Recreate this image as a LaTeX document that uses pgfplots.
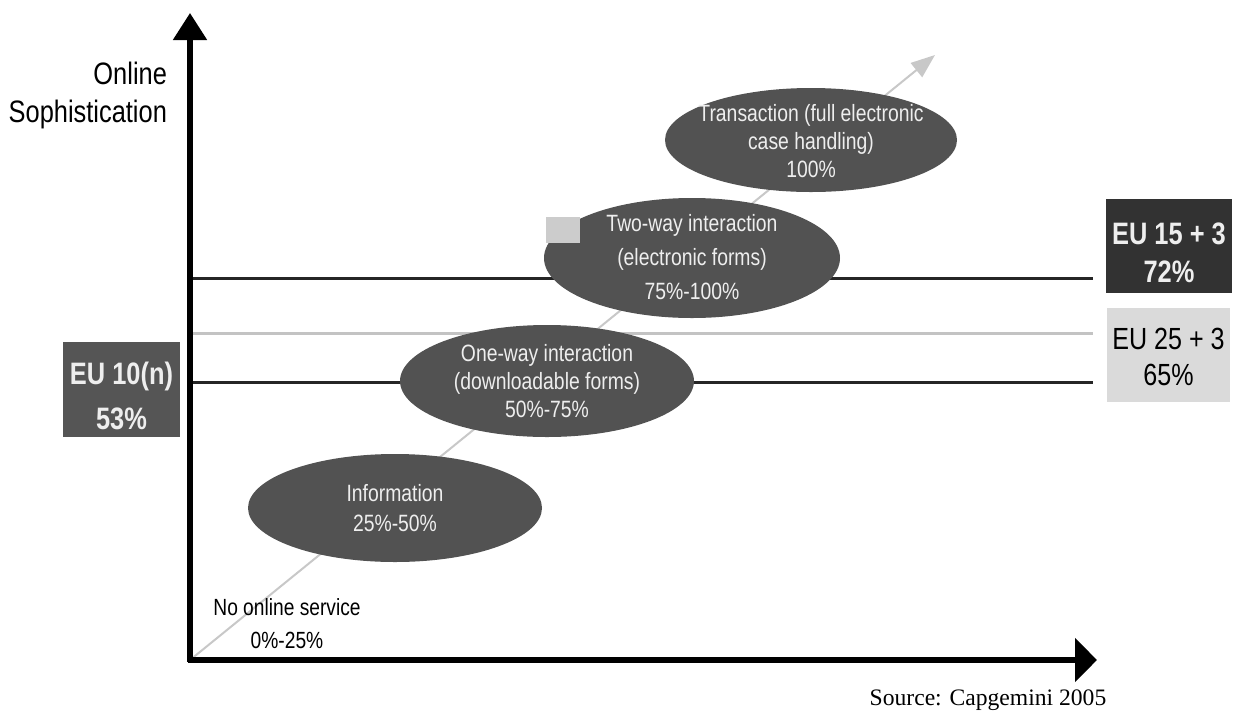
\documentclass[border=0pt]{standalone}
\usepackage{fontspec}
\setmainfont[FakeStretch=0.82]{Liberation Sans}
\newfontfamily\srcfont{Liberation Serif}
\usepackage{pgfplots}
\pgfplotsset{compat=1.18}
\usetikzlibrary{arrows.meta}
\definecolor{ell}{RGB}{82,82,82}
\definecolor{elltext}{RGB}{238,238,238}
\definecolor{diag}{RGB}{200,200,200}
\definecolor{darkbox}{RGB}{50,50,50}
\definecolor{midbox}{RGB}{85,85,85}
\definecolor{lightbox}{RGB}{218,218,218}
\definecolor{greyline}{RGB}{195,195,195}
\begin{document}
\begin{tikzpicture}
\begin{axis}[
  scale only axis, width=619.5pt, height=359.5pt,
  xmin=0, xmax=1239, ymin=0, ymax=719, y dir=reverse,
  hide axis, clip=false]
\path (axis cs:0,0) rectangle (axis cs:1239,719);
% progression arrow
\addplot[draw=diag, line width=1pt, -{Triangle[length=12pt,width=9pt]}] coordinates {(190,660) (935,55)};
% level lines: EU 15+3 72%, EU 25+3 65%, EU 10(n) 53%
\addplot[line width=1.5pt, black!85] coordinates {(190,278) (1093,278)};
\addplot[line width=1.5pt, greyline] coordinates {(190,333) (1093,333)};
\addplot[line width=1.5pt, black!85] coordinates {(190,382) (1093,382)};
% axes
\addplot[line width=2.6pt, black, -{Triangle[length=13.5pt,width=16.5pt]}] coordinates {(190,662) (190,13)};
\addplot[line width=2.6pt, black, -{Triangle[length=11pt,width=21.5pt]}] coordinates {(188,660) (1097,660)};
% stage ellipses
\fill[ell] (axis cs:395,508) ellipse [x radius=147, y radius=54];
\fill[ell] (axis cs:547,381) ellipse [x radius=147, y radius=56];
\fill[ell] (axis cs:692,258) ellipse [x radius=148, y radius=60];
\fill[ell] (axis cs:811,140) ellipse [x radius=146, y radius=52];
\fill[gray!40] (axis cs:546,217) rectangle (axis cs:580,243);
\node[text=elltext, align=center, font=\fontsize{11.8}{15}\selectfont] at (axis cs:395,508) {Information\\25\%-50\%};
\node[text=elltext, align=center, font=\fontsize{11.8}{14}\selectfont] at (axis cs:547,381) {One-way interaction\\(downloadable forms)\\50\%-75\%};
\node[text=elltext, align=center, font=\fontsize{11.8}{17}\selectfont] at (axis cs:692,257) {Two-way interaction\\(electronic forms)\\75\%-100\%};
\node[text=elltext, align=center, font=\fontsize{11.8}{14}\selectfont] at (axis cs:811,141) {Transaction (full electronic\\case handling)\\100\%};
\node[align=center, font=\fontsize{11.7}{16.5}\selectfont] at (axis cs:287,624) {No online service\\0\%-25\%};
% axis label
\node[anchor=east, align=right, font=\fontsize{15.5}{19}\selectfont] at (axis cs:174,95) {Online\\Sophistication};
% level boxes
\fill[darkbox] (axis cs:1106,199) rectangle (axis cs:1232,293);
\node[text=elltext, align=center, font=\bfseries\fontsize{15.5}{19}\selectfont] at (axis cs:1169,253) {EU 15 + 3\\72\%};
\fill[lightbox] (axis cs:1107,308) rectangle (axis cs:1230,402);
\node[text=black, align=center, font=\fontsize{15.3}{18}\selectfont] at (axis cs:1168.5,357) {EU 25 + 3\\65\%};
\fill[midbox] (axis cs:63,342) rectangle (axis cs:180,437);
\node[text=elltext, align=center, font=\bfseries\fontsize{15.5}{22.5}\selectfont] at (axis cs:121.5,396) {EU 10(n)\\53\%};
% source
\node[font=\srcfont\fontsize{11.8}{14}\selectfont] at (axis cs:988,700) {Source: Capgemini 2005};
\end{axis}
\end{tikzpicture}
\end{document}
